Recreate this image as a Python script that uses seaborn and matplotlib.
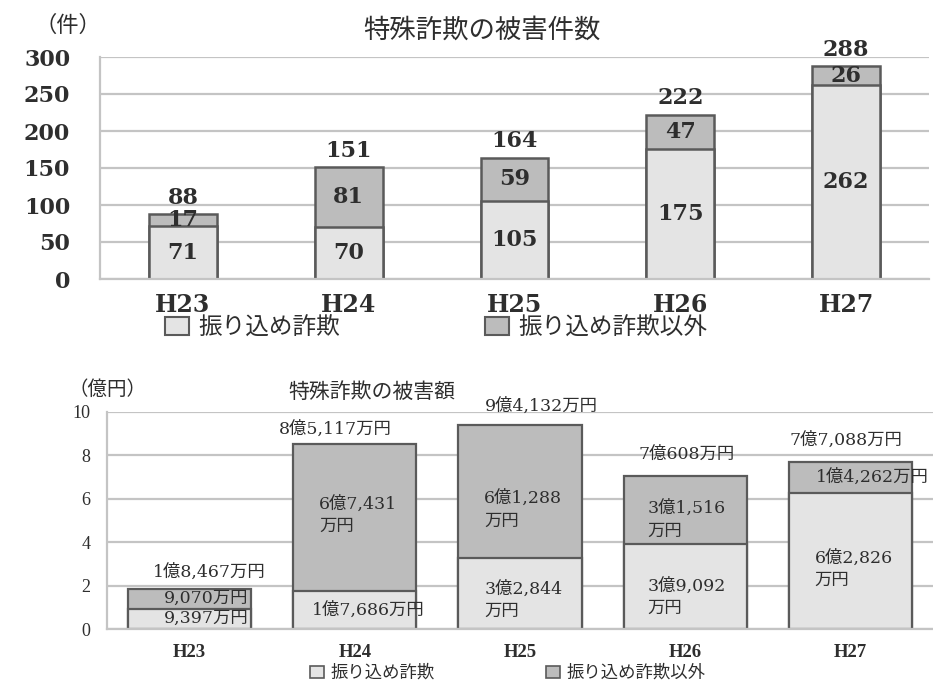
import matplotlib
matplotlib.use("Agg")
import matplotlib.pyplot as plt
from matplotlib.patches import Patch
import seaborn as sns

# ---- data ----
years = ["H23", "H24", "H25", "H26", "H27"]

# 特殊詐欺の被害件数 (件)
count_transfer = [71, 70, 105, 175, 262]
count_other = [17, 81, 59, 47, 26]

# 特殊詐欺の被害額 (億円)
amount_transfer = [0.9397, 1.7686, 3.2844, 3.9092, 6.2826]
amount_other = [0.9070, 6.7431, 6.1288, 3.1516, 1.4262]

series_names = ["振り込め詐欺", "振り込め詐欺以外"]

# ---- style ----
LIGHT = "#e4e4e4"
DARK = "#bcbcbc"
EDGE = "#5a5a5a"
GRID = "#c4c4c4"
TEXT = "#2e2e2e"
JP = ["Noto Sans CJK JP", "DejaVu Sans"]
NUM_TOP = ["DejaVu Serif", "Noto Sans CJK JP"]
NUM_BOT = ["DejaVu Serif", "Noto Sans CJK JP"]

sns.set_theme(style="white")
plt.rcParams["font.family"] = JP

count_total = [a + b for a, b in zip(count_transfer, count_other)]
amount_total = [a + b for a, b in zip(amount_transfer, amount_other)]


def yen_label(oku, wrap=False):
    man = int(round(oku * 10000))
    o, rest = divmod(man, 10000)
    s = f"{o}億{rest:,}" if o else f"{rest:,}"
    return s + ("\n万円" if wrap else "万円")


fig = plt.figure(figsize=(9.33, 6.86), dpi=100)
W, H = 933, 686
ax1 = fig.add_axes([100 / W, 1 - 279 / H, (929 - 100) / W, (279 - 57) / H])
ax2 = fig.add_axes([107 / W, 1 - 629 / H, (933 - 107) / W, (629 - 412) / H])


def style_axes(ax, ylim, yticks, tick_len, pad_y, pad_x, fs_y, fs_x, fam,
               weight_y, weight_x):
    ax.set_ylim(*ylim)
    ax.set_xlim(-0.5, len(years) - 0.5)
    ax.set_yticks(yticks)
    ax.set_axisbelow(True)
    ax.yaxis.grid(True, color=GRID, linewidth=1.6)
    ax.xaxis.grid(False)
    for s in ["top", "right"]:
        ax.spines[s].set_visible(False)
    for s in ["left", "bottom"]:
        ax.spines[s].set_color(GRID)
        ax.spines[s].set_linewidth(1.6)
    ax.tick_params(axis="y", length=tick_len, width=1.6, color=GRID, pad=pad_y,
                   labelsize=fs_y, labelcolor=TEXT)
    ax.tick_params(axis="x", which="major", length=0, pad=pad_x,
                   labelsize=fs_x, labelcolor=TEXT)
    ax.set_xticks([i - 0.5 for i in range(len(years) + 1)], minor=True)
    ax.tick_params(axis="x", which="minor", length=4, width=1.4, color=GRID)
    for lab in ax.get_yticklabels():
        lab.set_family(fam)
        lab.set_weight(weight_y)
    for lab in ax.get_xticklabels():
        lab.set_family(fam)
        lab.set_weight(weight_x)
    ax.set_xlabel("")
    ax.set_ylabel("")


def add_legend_entry(handle, name, x_px, y_px, size, hl, hh):
    fig.legend([handle], [name], loc="center left",
               bbox_to_anchor=(x_px / W, 1 - y_px / H), frameon=False,
               prop={"family": JP, "size": size}, handlelength=hl,
               handleheight=hh, handletextpad=0.4, borderpad=0,
               borderaxespad=0, labelcolor=TEXT)


# ---- top: counts ----
sns.barplot(x=years, y=count_total, color=DARK, saturation=1, width=0.41,
            edgecolor=EDGE, linewidth=1.8, ax=ax1)
sns.barplot(x=years, y=count_transfer, color=LIGHT, saturation=1, width=0.41,
            edgecolor=EDGE, linewidth=1.8, ax=ax1)
style_axes(ax1, (0, 300), range(0, 301, 50), 9.5, 12, 10, 16, 17, NUM_TOP,
           "bold", "bold")

for i in range(len(years)):
    kw = dict(ha="center", va="center", color=TEXT, family=NUM_TOP,
              fontsize=16, fontweight="bold")
    ax1.text(i, count_transfer[i] / 2, f"{count_transfer[i]}", **kw)
    ax1.text(i, count_transfer[i] + count_other[i] / 2, f"{count_other[i]}", **kw)
    ax1.text(i, count_total[i] + 22, f"{count_total[i]}", **kw)

fig.text(482 / W, 1 - 30 / H, "特殊詐欺の被害件数", ha="center", va="center",
         fontsize=19, color=TEXT)
fig.text(68 / W, 1 - 25 / H, "（件）", ha="center", va="center",
         fontsize=16, color=TEXT)

add_legend_entry(Patch(facecolor=LIGHT, edgecolor=EDGE, linewidth=1.5),
                 series_names[0], 165, 328, 17, 1.0, 0.8)
add_legend_entry(Patch(facecolor=DARK, edgecolor=EDGE, linewidth=1.5),
                 series_names[1], 485, 328, 17, 1.0, 0.8)

# ---- bottom: amounts ----
sns.barplot(x=years, y=amount_total, color=DARK, saturation=1, width=0.745,
            edgecolor=EDGE, linewidth=1.6, ax=ax2)
sns.barplot(x=years, y=amount_transfer, color=LIGHT, saturation=1, width=0.745,
            edgecolor=EDGE, linewidth=1.6, ax=ax2)
style_axes(ax2, (0, 10), range(0, 11, 2), 5, 7, 11, 13, 13.5,
           ["Liberation Serif"], "normal", "bold")

wrap_transfer = [False, False, True, True, True]
wrap_other = [False, True, True, True, False]
# label nudges (category units, 億円)
dx_transfer = [0.10, 0.08, 0.02, 0.01, 0.02]
dy_transfer = [0.0, 0.0, -0.3, -0.5, -0.4]
dx_other = [0.10, 0.02, 0.02, 0.01, 0.13]
dy_other = [0.0, 0.1, -0.85, -0.45, 0.0]
dx_total = [0.12, -0.12, 0.13, 0.01, -0.03]
dy_total = [0.75, 0.7, 0.85, 1.0, 1.0]

for i in range(len(years)):
    kw = dict(ha="center", va="center", color=TEXT, family=NUM_BOT,
              fontsize=12.5, multialignment="left", linespacing=1.4)
    ax2.text(i + dx_transfer[i], amount_transfer[i] / 2 + dy_transfer[i],
             yen_label(amount_transfer[i], wrap_transfer[i]), **kw)
    ax2.text(i + dx_other[i], amount_transfer[i] + amount_other[i] / 2 + dy_other[i],
             yen_label(amount_other[i], wrap_other[i]), **kw)
    ax2.text(i + dx_total[i], amount_total[i] + dy_total[i],
             yen_label(amount_total[i]), **kw)

fig.text(372 / W, 1 - 392 / H, "特殊詐欺の被害額", ha="center", va="center",
         fontsize=15, color=TEXT)
fig.text(108 / W, 1 - 389 / H, "（億円）", ha="center", va="center",
         fontsize=14, color=TEXT)

add_legend_entry(Patch(facecolor=LIGHT, edgecolor=EDGE, linewidth=1.2),
                 series_names[0], 310, 673, 12.5, 0.8, 0.7)
add_legend_entry(Patch(facecolor=DARK, edgecolor=EDGE, linewidth=1.2),
                 series_names[1], 546, 673, 12.5, 0.8, 0.7)

fig.savefig("out.png", dpi=100, facecolor="white")
